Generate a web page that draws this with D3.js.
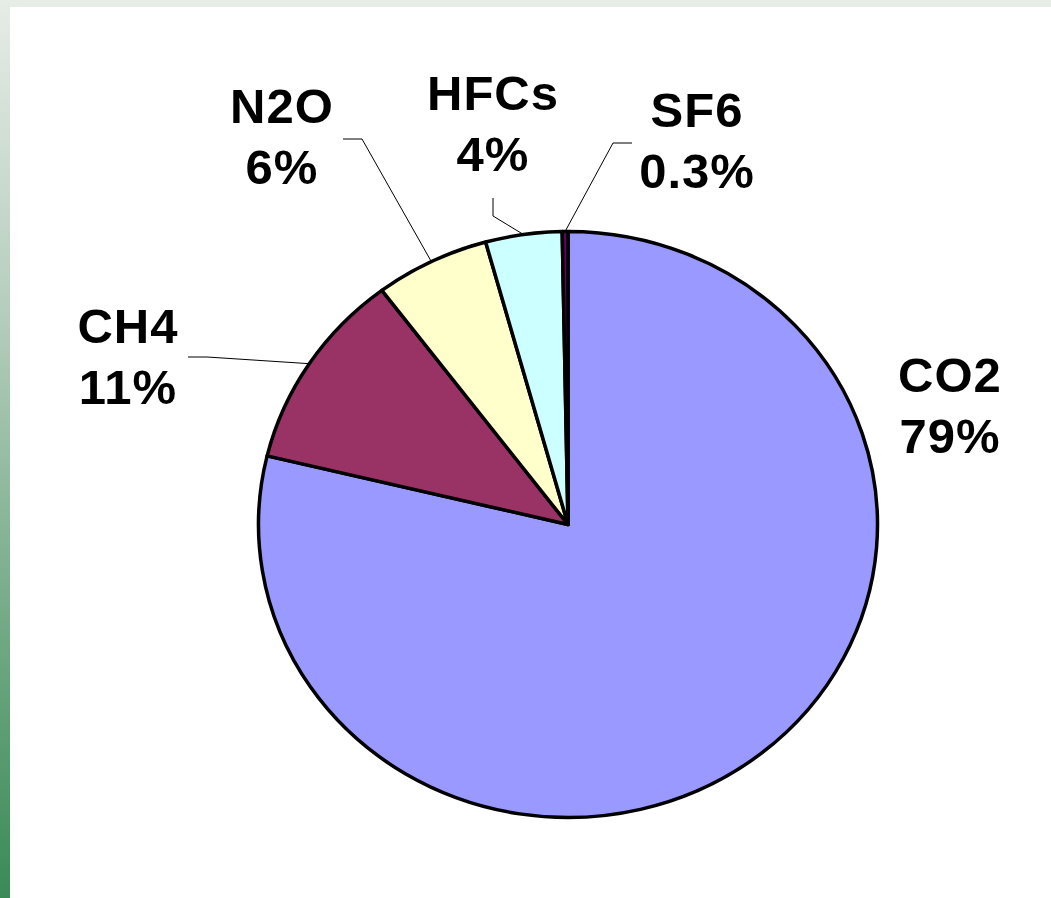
<!DOCTYPE html>
<html>
<head>
<meta charset="utf-8">
<script src="https://cdn.jsdelivr.net/npm/d3@7"></script>
<style>
  html, body { margin: 0; padding: 0; background: #fff; }
  svg { display: block; }
  text { font-family: "Liberation Sans", Arial, sans-serif; font-weight: bold; }
</style>
</head>
<body>
<svg id="chart" width="1051" height="898"></svg>
<script>
// ---- data ----
const categories = ["CO2", "CH4", "N2O", "HFCs", "SF6"];
const values = [79, 11, 6, 4, 0.3];
const valueLabels = ["79%", "11%", "6%", "4%", "0.3%"];
const colors = ["#9999FF", "#993366", "#FFFFCC", "#CCFFFF", "#660066"];

// ---- layout (label text position + leader elbow) ----
const labelX = [950, 128, 282, 493, 697];
const labelY = [392, 343, 123, 110, 127];
const elbows = [null, [[188, 357], [207, 357]], [[343, 139], [362, 139]], [[493, 198], [493, 216]], [[632, 143], [613, 143]]];

const W = 1051, H = 898;
const cx = 568, cy = 524.5, rx = 309.5, ry = 293;

const svg = d3.select("#chart");

// background frame
const defs = svg.append("defs");
const grad = defs.append("linearGradient").attr("id", "leftGrad")
  .attr("x1", 0).attr("y1", 0).attr("x2", 0).attr("y2", 1);
grad.append("stop").attr("offset", "0%").attr("stop-color", "#e6ece6");
grad.append("stop").attr("offset", "35%").attr("stop-color", "#b5cdbd");
grad.append("stop").attr("offset", "100%").attr("stop-color", "#3a8a56");
svg.append("rect").attr("x", 0).attr("y", 0).attr("width", W).attr("height", 7).attr("fill", "#e6ece6");
svg.append("rect").attr("x", 0).attr("y", 0).attr("width", 10).attr("height", H).attr("fill", "url(#leftGrad)");

// pie
const pie = d3.pie().sort(null).value(d => d)
  .startAngle(0).endAngle(2 * Math.PI);
const arcs = pie(values);
const arc = d3.arc().innerRadius(0).outerRadius(rx);

const g = svg.append("g")
  .attr("transform", `translate(${cx},${cy}) scale(1,${ry / rx})`);
g.selectAll("path").data(arcs).enter().append("path")
  .attr("d", arc)
  .attr("fill", (d, i) => colors[i])
  .attr("stroke", "#000")
  .attr("stroke-width", 3.5)
  .attr("stroke-linejoin", "round")
  .attr("vector-effect", "non-scaling-stroke");

// leader lines
arcs.forEach((d, i) => {
  if (!elbows[i]) return;
  const a = (d.startAngle + d.endAngle) / 2;
  const edge = [cx + rx * Math.sin(a), cy - ry * Math.cos(a)];
  const pts = elbows[i].concat([edge]);
  svg.append("path")
    .attr("d", d3.line()(pts))
    .attr("fill", "none")
    .attr("stroke", "#000")
    .attr("stroke-width", 1);
});

// labels
categories.forEach((c, i) => {
  const t = svg.append("text")
    .attr("x", labelX[i]).attr("y", labelY[i])
    .attr("text-anchor", "middle")
    .attr("font-size", 49)
    .attr("letter-spacing", 1)
    .attr("fill", "#000");
  t.append("tspan").attr("x", labelX[i]).text(c);
  t.append("tspan").attr("x", labelX[i]).attr("dy", 61).text(valueLabels[i]);
});
</script>
</body>
</html>
